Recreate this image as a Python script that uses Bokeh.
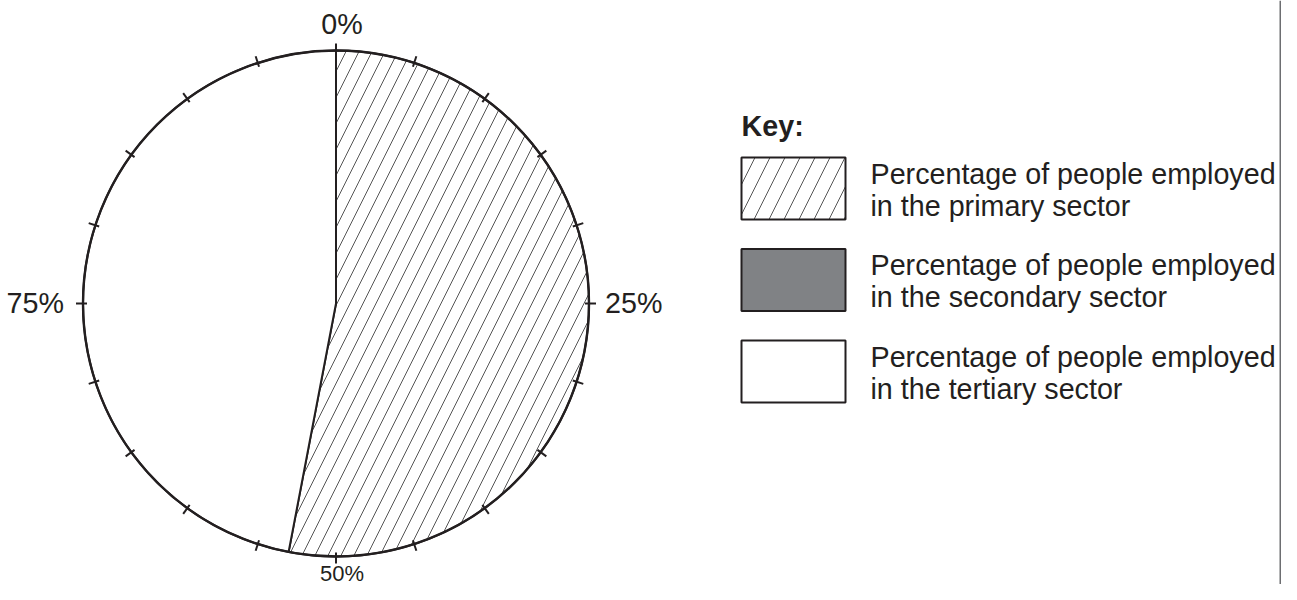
import numpy as np
from bokeh.plotting import figure
from bokeh.models import ColumnDataSource, Range1d
from bokeh.core.properties import value
from bokeh.embed import file_html
from bokeh.resources import INLINE

# ---- data ----
sectors = ["primary", "secondary", "tertiary"]
shares = [53, 0, 47]                       # percent of people employed
fill_colors = ["white", "#808285", "white"]
hatch_patterns = ["/", " ", " "]
tick_percents = list(range(0, 100, 5))
label_percents = [0, 25, 50, 75]
tick_labels = ["0%", "25%", "50%", "75%"]
key_title = "Key:"
legend_line1 = ["Percentage of people employed"] * 3
legend_line2 = ["in the primary sector", "in the secondary sector", "in the tertiary sector"]

# ---- layout (screen px -> data, y flipped) ----
W, H = 1281, 584
def sy(y):
    return H - y

cx, cy, R = 335.5, sy(303), 253
INK = "#231f20"
FONT = value("Liberation Sans")
FS = "28.7px"

p = figure(width=W, height=H, x_range=Range1d(0, W), y_range=Range1d(0, H),
           x_axis_location=None, y_axis_location=None, toolbar_location=None,
           output_backend="svg", min_border=0, outline_line_color=None)
p.grid.visible = False
p.background_fill_color = "white"

# wedges
cum = np.cumsum([0] + shares)
starts, ends, fc, hp = [], [], [], []
for i, s in enumerate(shares):
    if s <= 0:
        continue
    a0 = np.pi / 2 - 2 * np.pi * cum[i] / 100
    a1 = np.pi / 2 - 2 * np.pi * cum[i + 1] / 100
    starts.append(a0); ends.append(a1); fc.append(fill_colors[i]); hp.append(hatch_patterns[i])
wsrc = ColumnDataSource(dict(start=starts, end=ends, fill=fc, hatch=hp))
p.wedge(x=cx, y=cy, radius=R, start_angle="start", end_angle="end", direction="clock",
        fill_color="fill", hatch_pattern="hatch", hatch_color="#555555", hatch_weight=1,
        hatch_scale=26, line_color=INK, line_width=2, source=wsrc)

# circle outline
p.circle(x=[cx], y=[cy], radius=R, fill_color=None, line_color=INK, line_width=2.4)

# ticks
th = 2 * np.pi * np.array(tick_percents) / 100
r0, r1 = R - 4, R + 7
p.segment(x0=cx + r0 * np.sin(th), y0=cy + r0 * np.cos(th),
          x1=cx + r1 * np.sin(th), y1=cy + r1 * np.cos(th), line_color=INK, line_width=2)

# percent labels (all vertically centred)
lth = 2 * np.pi * np.array(label_percents) / 100
offs = [27, 16, 0, 19]
aligns = ["center", "left", "center", "right"]
dx = [6, 0, 6, 0]
lx = [cx + (R + o) * np.sin(t) + d for o, t, d in zip(offs, lth, dx)]
ly = [cy + (R + o) * np.cos(t) for o, t in zip(offs, lth)]
ly[1] += 1; ly[3] += 1
sel = [0, 1, 3]
p.text(x=[lx[i] for i in sel], y=[ly[i] for i in sel], text=[tick_labels[i] for i in sel],
       text_align=[aligns[i] for i in sel], text_baseline="middle",
       text_font=FONT, text_font_size=FS, text_color=INK)
# bottom label: must stay inside the canvas, so it sits a little higher/smaller
p.text(x=[lx[2]], y=[sy(572.5)], text=[tick_labels[2]], text_align="center",
       text_baseline="middle", text_font=FONT, text_font_size="22px", text_color=INK)

# key
p.text(x=[741], y=[sy(125)], text=[key_title], text_font=FONT, text_font_size=FS,
       text_font_style="bold", text_color=INK, text_baseline="middle")
tops = [157 + i * 91.5 for i in range(len(sectors))]
p.quad(left=741, right=845, top=[sy(t) for t in tops], bottom=[sy(t + 62) for t in tops],
       fill_color=fill_colors, hatch_pattern=hatch_patterns, hatch_color="#555555",
       hatch_weight=1, hatch_scale=30, line_color=INK, line_width=2)
p.text(x=[870] * 3, y=[sy(t + 16) for t in tops], text=legend_line1, text_font=FONT,
       text_font_size=FS, text_color=INK, text_baseline="middle")
p.text(x=[870] * 3, y=[sy(t + 48) for t in tops], text=legend_line2, text_font=FONT,
       text_font_size=FS, text_color=INK, text_baseline="middle")

# right frame line
p.segment(x0=[1280], y0=[0], x1=[1280], y1=[H], line_color="#6d6e71", line_width=2)

open("out.html", "w").write(file_html(p, INLINE))
